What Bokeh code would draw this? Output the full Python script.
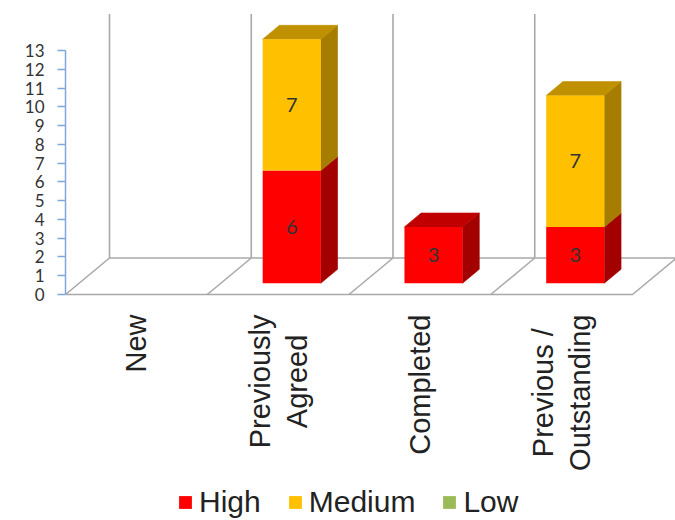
import math

from bokeh.plotting import figure
from bokeh.models import (LinearAxis, FixedTicker, Range1d, ColumnDataSource,
                          Legend, LegendItem)
from bokeh.core.properties import value
from bokeh.embed import file_html
from bokeh.resources import INLINE

# ---- data -------------------------------------------------------------
categories = ["New", "Previously\nAgreed", "Completed", "Previous /\nOutstanding"]
series_names = ["High", "Medium", "Low"]
high = [0, 6, 3, 3]
medium = [0, 7, 0, 7]
low = [0, 0, 0, 0]
y_ticks = list(range(0, 14))

series_values = {"High": high, "Medium": medium, "Low": low}

# front / side / top shades for each series
palette = {
    "High": ("#FF0000", "#A30000", "#C00000"),
    "Medium": ("#FFC000", "#A67D00", "#BF9000"),
    "Low": ("#9BBB59", "#657A3A", "#748C43"),
}

# ---- layout / projection ---------------------------------------------
W, H = 675, 520
LEFT = 65                 # width of the value-axis panel
ZERO_ROW = 294            # pixel row of value 0 on the front edge
PX_PER_VAL = 244 / 13
CAT_PX = 141.75
DEPTH_DX = 44 / CAT_PX            # depth offset, category units
DEPTH_DY = 36.5 / PX_PER_VAL      # depth offset, value units
BAR_X0, BAR_X1 = 0.295, 0.705     # bar extent inside a category
BAR_D0, BAR_D1 = 0.31, 0.69       # bar extent in depth

x_end = (W - LEFT) / CAT_PX
y_start = -(H - ZERO_ROW) / PX_PER_VAL
y_end = ZERO_ROW / PX_PER_VAL


def proj(x, v, d):
    """Oblique projection of (category x, value, depth) to plot coords."""
    return x + d * DEPTH_DX, v + d * DEPTH_DY


def quad(pts):
    xs, ys = zip(*[proj(*pt) for pt in pts])
    return list(xs), list(ys)


p = figure(width=W, height=H, x_range=Range1d(0, x_end),
           y_range=Range1d(y_start, y_end),
           x_axis_type=None, y_axis_type=None,
           output_backend="svg", toolbar_location=None,
           min_border_left=LEFT, min_border_right=0,
           min_border_top=0, min_border_bottom=0)
p.outline_line_color = None
p.background_fill_color = "white"
p.border_fill_color = "white"

# value axis
yaxis = LinearAxis(ticker=FixedTicker(ticks=y_ticks), bounds=(y_ticks[0], y_ticks[-1]))
yaxis.axis_line_color = "#7FA7DC"
yaxis.axis_line_width = 1.5
yaxis.major_tick_line_color = "#7FA7DC"
yaxis.major_tick_line_width = 1.5
yaxis.major_tick_out = 8
yaxis.major_tick_in = 0
yaxis.minor_tick_line_color = None
yaxis.major_label_standoff = 13
yaxis.major_label_text_font = "Lato"
yaxis.major_label_text_font_size = "17px"
yaxis.major_label_text_color = "#333333"
p.add_layout(yaxis, "left")

n = len(categories)
GRID = "#A9A9A9"

# floor
fx, fy = quad([(0, 0, 0), (n, 0, 0), (n, 0, 1), (0, 0, 1)])
p.patch(fx, fy, fill_color="white", line_color=GRID, line_width=1.6)

# floor dividers and back-wall verticals
div_xs, div_ys = [], []
for i in range(1, n):
    a = proj(i, 0, 0)
    b = proj(i, 0, 1)
    div_xs.append([a[0], b[0]])
    div_ys.append([a[1], b[1]])
for i in range(0, n + 1):
    a = proj(i, 0, 1)
    b = proj(i, y_ticks[-1], 1)
    div_xs.append([a[0], b[0]])
    div_ys.append([a[1], b[1]])
p.multi_line(div_xs, div_ys, line_color=GRID, line_width=1.6)

# stacked 3-D bars; every segment gets a front face (zero-height ones are
# flat and invisible) so each series has a renderer for the legend
faces = {name: {"front": ([], []), "side": ([], []), "top": ([], [])}
         for name in series_names}
labels_x, labels_y, labels_t = [], [], []
for i in range(n):
    base = 0
    segs = []
    for name in series_names:
        v = series_values[name][i]
        segs.append((name, base, base + v))
        base += v
    top_name = None
    for name, b, t in segs:
        if t > b:
            top_name = name
    for name, b, t in segs:
        x0, x1 = i + BAR_X0, i + BAR_X1
        fr = quad([(x0, b, BAR_D0), (x1, b, BAR_D0), (x1, t, BAR_D0), (x0, t, BAR_D0)])
        faces[name]["front"][0].append(fr[0]); faces[name]["front"][1].append(fr[1])
        if t <= b:
            continue
        sd = quad([(x1, b, BAR_D0), (x1, b, BAR_D1), (x1, t, BAR_D1), (x1, t, BAR_D0)])
        faces[name]["side"][0].append(sd[0]); faces[name]["side"][1].append(sd[1])
        if name == top_name:
            tp = quad([(x0, t, BAR_D0), (x1, t, BAR_D0), (x1, t, BAR_D1), (x0, t, BAR_D1)])
            faces[name]["top"][0].append(tp[0]); faces[name]["top"][1].append(tp[1])
        lx, ly = proj(i + 0.5, (b + t) / 2, BAR_D0)
        labels_x.append(lx); labels_y.append(ly); labels_t.append(str(t - b))

front_renderers = {}
for kind, shade in (("side", 1), ("top", 2), ("front", 0)):
    for name in series_names:
        xs, ys = faces[name][kind]
        col = palette[name][shade]
        if kind == "front":
            r = p.patches(xs=xs, ys=ys, fill_color=col, line_color=None)
            front_renderers[name] = r
        else:
            p.patches(xs=xs, ys=ys, fill_color=col, line_color=col, line_width=0.6)

p.text(x=labels_x, y=labels_y, text=labels_t, text_align="center",
       text_baseline="middle", text_font=value("Lato"), text_font_size="20px",
       text_color="#333333")

# rotated category labels under the floor
cat_src = ColumnDataSource(dict(x=[i + 0.5 for i in range(n)],
                                y=[-(314 - ZERO_ROW) / PX_PER_VAL] * n,
                                text=categories))
p.text(x="x", y="y", text="text", source=cat_src, angle=math.pi / 2,
       text_align="center", text_baseline="middle", anchor="center_right",
       text_font=value("Liberation Sans"), text_font_size="29px",
       text_line_height=1.15, text_color="#222222")

legend = Legend(items=[LegendItem(label=name, renderers=[front_renderers[name]])
                       for name in series_names],
                orientation="horizontal", location=(112, 1))
legend.label_text_font = "Liberation Sans"
legend.label_text_font_size = "30px"
legend.label_text_color = "#222222"
legend.glyph_width = 16
legend.glyph_height = 16
legend.label_standoff = 6
legend.spacing = 26
legend.padding = 0
legend.margin = 0
legend.border_line_color = None
legend.background_fill_alpha = 0
p.add_layout(legend)

open("out.html", "w").write(file_html(p, INLINE))
